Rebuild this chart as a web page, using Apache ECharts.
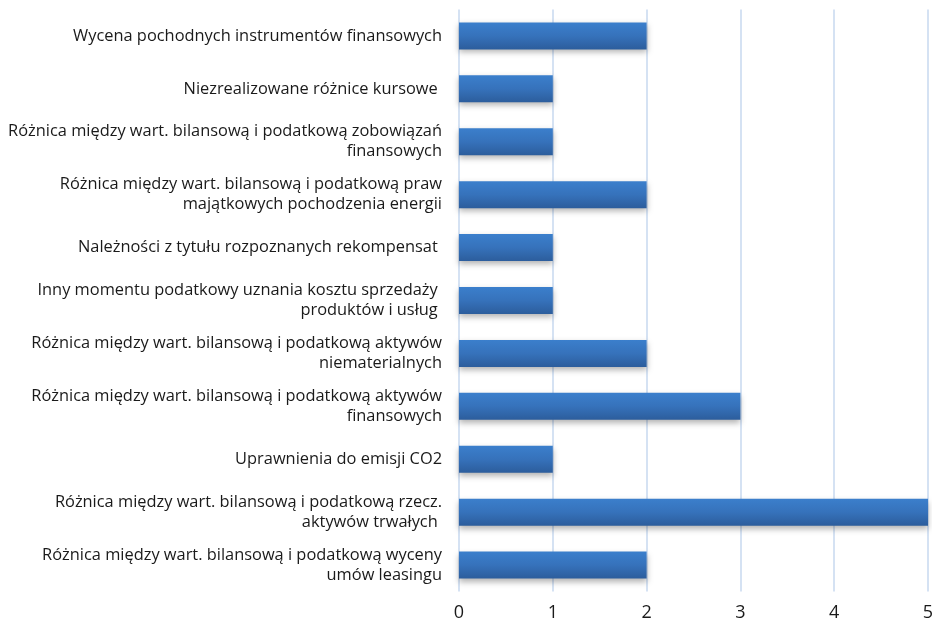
<!DOCTYPE html>
<html>
<head>
<meta charset="utf-8">
<script src="https://cdn.jsdelivr.net/npm/echarts@6/dist/echarts.min.js"></script>
<style>
  html, body { margin: 0; padding: 0; background: #fff; }
  #chart { width: 932px; height: 627px; }
</style>
</head>
<body>
<div id="chart"></div>
<script>
// kategorie od góry do dołu
var categories = [
    'Wycena pochodnych instrumentów finansowych',
    'Niezrealizowane różnice kursowe ',
    'Różnica między wart. bilansową i podatkową zobowiązań\nfinansowych',
    'Różnica między wart. bilansową i podatkową praw\nmajątkowych pochodzenia energii',
    'Należności z tytułu rozpoznanych rekompensat ',
    'Inny momentu podatkowy uznania kosztu sprzedaży \nproduktów i usług ',
    'Różnica między wart. bilansową i podatkową aktywów\nniematerialnych',
    'Różnica między wart. bilansową i podatkową aktywów\nfinansowych',
    'Uprawnienia do emisji CO2',
    'Różnica między wart. bilansową i podatkową rzecz.\naktywów trwałych ',
    'Różnica między wart. bilansową i podatkową wyceny\numów leasingu'
];
var values = [2, 1, 1, 2, 1, 1, 2, 3, 1, 5, 2];
var xTicks = [0, 1, 2, 3, 4, 5];

var myChart = echarts.init(document.getElementById('chart'));

myChart.setOption({
    animation: false,
    grid: {
        left: 459,
        right: 4,
        top: 9.5,
        bottom: 35.5,
        outerBoundsMode: 'none'
    },
    xAxis: {
        type: 'value',
        min: xTicks[0],
        max: xTicks[xTicks.length - 1],
        interval: 1,
        axisLine: { show: false },
        axisTick: { show: false },
        axisLabel: {
            fontFamily: 'Open Sans',
            fontSize: 18,
            color: '#1a1a1a',
            margin: 12
        },
        splitLine: {
            lineStyle: { color: '#d5e2f3', width: 2 }
        }
    },
    yAxis: {
        type: 'category',
        inverse: true,
        data: categories,
        axisLine: { show: false },
        axisTick: { show: false },
        axisLabel: {
            fontFamily: 'Open Sans',
            fontSize: 16.4,
            lineHeight: 20,
            color: '#1a1a1a',
            margin: 17,
            align: 'right'
        }
    },
    series: [{
        type: 'bar',
        data: values,
        barWidth: '51%',
        itemStyle: {
            color: new echarts.graphic.LinearGradient(0, 0, 0, 1, [
                { offset: 0, color: '#3b7fcc' },
                { offset: 0.5, color: '#3672bb' },
                { offset: 1, color: '#2c5d9c' }
            ]),
            shadowColor: 'rgba(0,0,0,0.3)',
            shadowBlur: 6,
            shadowOffsetY: 3
        }
    }]
});
</script>
</body>
</html>
